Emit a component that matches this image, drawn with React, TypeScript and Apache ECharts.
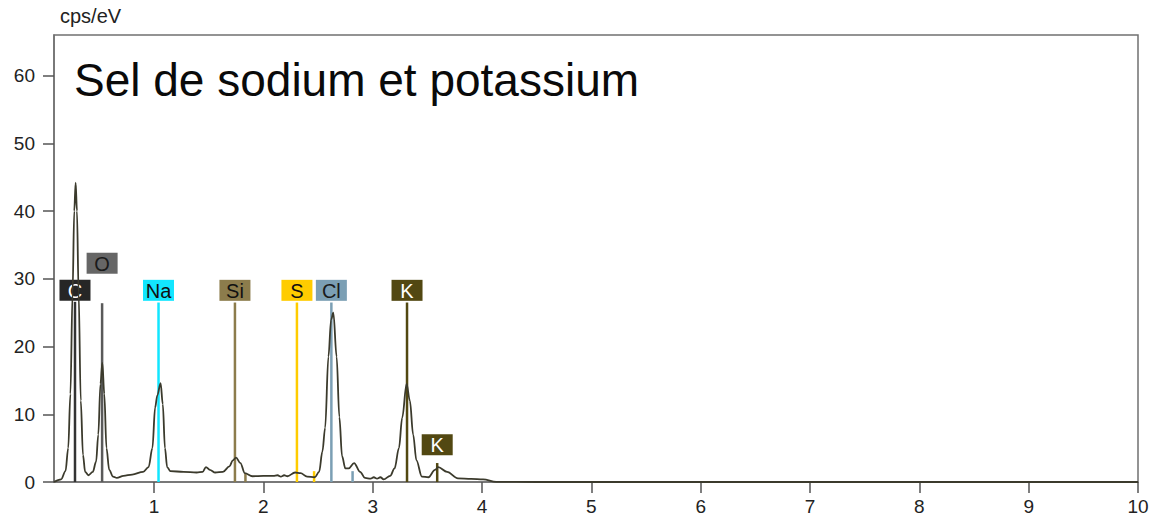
import React, { useEffect, useRef } from 'react';
import * as echarts from 'echarts';

// ---- Spectrum (energy in keV, counts in cps/eV) ----
const spectrumEnergy = [
  0.085, 0.15, 0.19, 0.215, 0.235, 0.255, 0.27, 0.283, 0.295, 0.31, 0.33, 0.35, 0.37, 0.4, 0.44, 0.47, 0.49,
  0.51, 0.527, 0.545, 0.565, 0.59, 0.625, 0.66, 0.72, 0.8, 0.9, 0.95, 0.985, 1.01, 1.03, 1.06, 1.08, 1.1,
  1.12, 1.15, 1.27, 1.39, 1.445, 1.475, 1.51, 1.56, 1.63, 1.69, 1.72, 1.75, 1.79, 1.83, 1.9, 2.0, 2.09,
  2.13, 2.16, 2.19, 2.22, 2.29, 2.34, 2.4, 2.47, 2.51, 2.54, 2.565, 2.595, 2.62, 2.64, 2.67, 2.695, 2.72,
  2.75, 2.78, 2.83, 2.885, 2.93, 2.98, 3.01, 3.04, 3.07, 3.1, 3.16, 3.2, 3.24, 3.27, 3.31, 3.34, 3.37, 3.4,
  3.45, 3.51, 3.57, 3.6, 3.68, 3.78, 3.9, 4.01, 4.13, 4.5, 10,
];
const spectrumCps = [
  0, 0.4, 1.6, 5, 13, 28, 40, 44.2, 40, 28, 12, 4, 1.5, 1.0, 1.5, 3.0, 7,
  14.5, 17.6, 13, 5, 1.8, 0.8, 0.6, 0.9, 1.1, 1.5, 2.2, 5, 11, 12.8, 14.6, 11.5, 5,
  2.2, 1.6, 1.5, 1.4, 1.5, 2.2, 1.8, 1.4, 1.5, 2.3, 3.2, 3.6, 2.8, 1.3, 0.85, 0.9, 0.9,
  1.0, 0.8, 1.0, 0.85, 1.4, 1.3, 0.8, 0.7, 1.5, 4.5, 8, 18.5, 24, 25.0, 18.5, 9.6, 3.8,
  2.0, 2.0, 2.8, 1.5, 0.6, 0.5, 0.7, 0.5, 0.7, 0.4, 0.9, 2.0, 5, 9.5, 14.5, 12, 7, 3.2,
  0.8, 0.7, 1.8, 2.2, 1.5, 0.55, 0.45, 0.4, 0.02, 0, 0,
];

// ---- Element markers ----
const elementNames = ['C', 'O', 'Na', 'Si', 'S', 'Cl', 'K', 'K'];
const elementEnergy = [0.277, 0.525, 1.041, 1.74, 2.307, 2.622, 3.314, 3.59];
const elementLineTop = [26.6, 26.4, 26.5, 26.5, 26.5, 26.5, 26.5, 2.8];
const elementLabelAt = [28.3, 32.3, 28.3, 28.3, 28.3, 28.3, 28.3, 5.5];

// minor (secondary) lines
const minorNames = ['Si', 'S', 'Cl'];
const minorEnergy = [1.836, 2.464, 2.816];
const minorTop = [1.2, 1.6, 1.6];

// ---- Ticks ----
const xTicks = [1, 2, 3, 4, 5, 6, 7, 8, 9, 10];
const yTicks = [0, 10, 20, 30, 40, 50, 60];

const TITLE = 'Sel de sodium et potassium';
const UNIT = 'cps/eV';

// ---- Styles ----
const FONT = '"Liberation Sans", Arial, sans-serif';
const lineColor: Record<string, string> = {
  C: '#333333', O: '#5a5a5a', Na: '#12e6ff', Si: '#8c7c4c', S: '#ffcc00', Cl: '#7b9fb4', K: '#524812',
};
const boxColor: Record<string, string> = {
  C: '#262626', O: '#666666', Na: '#12e6ff', Si: '#8c7c4c', S: '#ffcc00', Cl: '#7b9fb4', K: '#524812',
};
const textColor: Record<string, string> = {
  C: '#ffffff', O: '#1a1a1a', Na: '#111111', Si: '#111111', S: '#111111', Cl: '#1a1a1a', K: '#ffffff',
};

export default function App() {
  const ref = useRef<HTMLDivElement>(null);

  useEffect(() => {
    if (!ref.current) return;
    const chart = echarts.init(ref.current, undefined, { renderer: 'svg' });

    const spectrum = spectrumEnergy.map((e, i) => [e, spectrumCps[i]]);
    const markers = elementEnergy.map((e, i) => [e, elementLineTop[i], elementLabelAt[i], i]);
    const minors = minorEnergy.map((e, i) => [e, minorTop[i], i]);

    const axisColor = '#707070';

    chart.setOption({
      animation: false,
      backgroundColor: '#ffffff',
      title: {
        text: TITLE,
        left: 69,
        top: 52,
        textStyle: { fontSize: 46, fontWeight: 'normal', color: '#0a0a0a', fontFamily: FONT },
      },
      graphic: [
        {
          type: 'text',
          left: 60,
          top: 6,
          style: { text: UNIT, fontSize: 20, fill: '#222222', fontFamily: FONT },
        },
      ],
      grid: {
        left: 54,
        right: 17,
        top: 35,
        bottom: 40,
        show: true,
        borderColor: axisColor,
        borderWidth: 1.5,
        backgroundColor: 'transparent',
      },
      xAxis: {
        type: 'value',
        min: 0.085,
        max: 10,
        axisLine: { show: true, lineStyle: { color: axisColor, width: 1.5 } },
        axisTick: { show: true, customValues: xTicks, length: 11, lineStyle: { color: '#555555', width: 1.5 } },
        axisLabel: {
          customValues: xTicks,
          formatter: (v: number) => String(Math.round(v)),
          fontSize: 19,
          color: '#222222',
          fontFamily: FONT,
          margin: 15,
        },
        splitLine: { show: false },
      },
      yAxis: {
        type: 'value',
        min: 0,
        max: 66,
        axisLine: { show: true, lineStyle: { color: axisColor, width: 1.5 } },
        axisTick: { show: true, customValues: yTicks, length: 11, lineStyle: { color: '#555555', width: 1.5 } },
        axisLabel: {
          customValues: yTicks,
          formatter: (v: number) => String(Math.round(v)),
          fontSize: 19,
          color: '#222222',
          fontFamily: FONT,
          margin: 19,
        },
        splitLine: { show: false },
      },
      series: [
        {
          type: 'custom',
          name: 'minor',
          data: minors,
          z: 2,
          renderItem: (_p: any, api: any) => {
            const e = api.value(0);
            const top = api.value(1);
            const idx = api.value(2);
            const name = minorNames[idx];
            const b = api.coord([e, 0]);
            const t = api.coord([e, top]);
            return {
              type: 'line',
              shape: { x1: b[0], y1: b[1], x2: t[0], y2: t[1] },
              style: { stroke: lineColor[name], lineWidth: 2.5 },
            };
          },
        },
        {
          type: 'custom',
          name: 'elements',
          data: markers,
          z: 2,
          renderItem: (_p: any, api: any) => {
            const e = api.value(0);
            const top = api.value(1);
            const lab = api.value(2);
            const idx = api.value(3);
            const name = elementNames[idx];
            const b = api.coord([e, 0]);
            const t = api.coord([e, top]);
            const c = api.coord([e, lab]);
            return {
              type: 'group',
              children: [
                {
                  type: 'line',
                  shape: { x1: b[0], y1: b[1], x2: t[0], y2: t[1] },
                  style: { stroke: lineColor[name], lineWidth: 2.5 },
                },
                {
                  type: 'rect',
                  shape: { x: c[0] - 15.5, y: c[1] - 10.5, width: 31, height: 21 },
                  style: { fill: boxColor[name] },
                },
                {
                  type: 'text',
                  x: c[0],
                  y: c[1] + 0.5,
                  style: {
                    text: name,
                    fill: textColor[name],
                    fontSize: 20,
                    fontFamily: FONT,
                    align: 'center',
                    verticalAlign: 'middle',
                  },
                },
              ],
            };
          },
        },
        {
          type: 'line',
          name: 'spectrum',
          data: spectrum,
          z: 3,
          showSymbol: false,
          smooth: 0.35,
          smoothMonotone: 'x',
          clip: true,
          lineStyle: { color: '#3b3a2c', width: 1.8 },
        },
      ],
    });

    return () => chart.dispose();
  }, []);

  return (
    <div
      ref={ref}
      style={{ position: 'absolute', left: 0, top: 0, width: 1155, height: 522 }}
    />
  );
}
